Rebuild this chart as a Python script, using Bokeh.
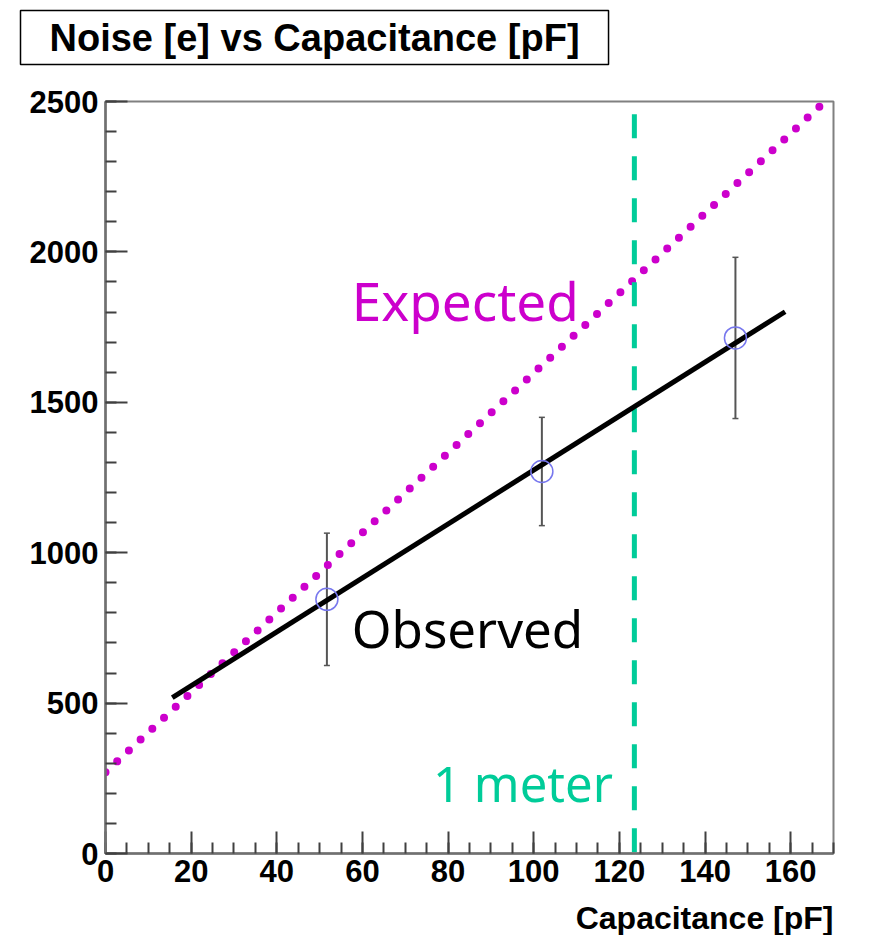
from bokeh.plotting import figure
from bokeh.models import Range1d, SingleIntervalTicker, Label, Whisker, TeeHead, ColumnDataSource, Title
from bokeh.embed import file_html
from bokeh.resources import INLINE

# ---- data ----
cap = [51.7, 101.9, 147.1]          # capacitance [pF]
noise = [845, 1270, 1714]           # observed noise [e]
noise_err = [220, 180, 268]         # error bars [e]

fit_x = [15.6, 158.7]               # observed linear fit
fit_y = [518, 1801]

exp_x = [0, 168]                    # expected noise line
exp_y = [270, 2500]

meter_x = [123.5, 123.5]            # "1 meter" capacitance
meter_y = [2458, 0]

x_ticks_interval = 20
y_ticks_interval = 500

TICK_FONT = "Liberation Sans"
TEXT_FONT = "Noto Sans"

p = figure(width=877, height=935, output_backend="svg", toolbar_location=None,
           x_range=Range1d(0, 170), y_range=Range1d(0, 2500),
           min_border_left=105, min_border_right=44, min_border_top=101, min_border_bottom=82)
p.background_fill_color = "white"
p.border_fill_color = "white"
p.outline_line_color = "#808080"
p.outline_line_width = 2
p.xgrid.visible = False
p.ygrid.visible = False

# spacer between frame and title box
p.add_layout(Title(text=" ", text_font_size="1px", standoff=33), "above")
# title box (ROOT style)
p.add_layout(Title(text="Noise [e] vs Capacitance [pF]", text_color="black",
                   text_font=TICK_FONT, text_font_style="bold", text_font_size="38px",
                   align="left", offset=20 - 105, standoff=2,
                   border_line_color="black", border_line_width=1.5,
                   background_fill_color="white",
                   padding=dict(left=29, right=29, top=6, bottom=6)), "above")

p.xaxis.ticker = SingleIntervalTicker(interval=x_ticks_interval, num_minor_ticks=4)
p.yaxis.ticker = SingleIntervalTicker(interval=y_ticks_interval, num_minor_ticks=5)
for ax in (p.xaxis, p.yaxis):
    ax.axis_line_color = "#707070"
    ax.axis_line_width = 2.5
    ax.major_tick_in = 22
    ax.major_tick_out = 0
    ax.minor_tick_in = 11
    ax.minor_tick_out = 0
    ax.major_tick_line_color = "#404040"
    ax.major_tick_line_width = 2
    ax.minor_tick_line_color = "#404040"
    ax.minor_tick_line_width = 2
    ax.major_label_text_font = TICK_FONT
    ax.major_label_text_font_style = "bold"
    ax.major_label_text_font_size = "31px"
    ax.major_label_text_color = "black"
p.yaxis.major_label_standoff = 7
p.xaxis.major_label_standoff = 6

# spacer, then x axis title right aligned under the axis (ROOT style)
p.add_layout(Title(text=" ", text_font_size="1px", standoff=10), "below")
p.add_layout(Title(text="Capacitance [pF]", text_color="black",
                   text_font=TICK_FONT, text_font_style="bold", text_font_size="32px",
                   align="right", offset=0, standoff=0), "below")

# expected (dotted magenta)
p.line(exp_x, exp_y, line_color="#CC00CC", line_width=8, line_dash="0 16", line_cap="round")

# 1 meter (dashed green)
p.line(meter_x, meter_y, line_color="#00CC99", line_width=5, line_dash="24 18")

# observed fit
p.line(fit_x, fit_y, line_color="black", line_width=5)

# error bars
src = ColumnDataSource(dict(x=cap, y=noise,
                            upper=[v + e for v, e in zip(noise, noise_err)],
                            lower=[v - e for v, e in zip(noise, noise_err)]))
w = Whisker(base="x", upper="upper", lower="lower", source=src,
            line_color="#555555", line_width=2,
            upper_head=TeeHead(size=6, line_color="#555555", line_width=1.5),
            lower_head=TeeHead(size=6, line_color="#555555", line_width=1.5))
p.add_layout(w)
p.scatter("x", "y", source=src, marker="circle", size=22, fill_color=None,
          line_color="#7777EE", line_width=1.5)

# texts
p.add_layout(Label(x=57.5, y=1837, text="Expected", text_color="#CC00CC",
                   text_font=TEXT_FONT, text_font_size="53px", text_baseline="alphabetic"))
p.add_layout(Label(x=57.5, y=751, text="Observed", text_color="black",
                   text_font=TEXT_FONT, text_font_size="51px", text_baseline="alphabetic"))
p.add_layout(Label(x=76.5, y=233, text="1 meter", text_color="#00CC99",
                   text_font=TEXT_FONT, text_font_size="49px", text_baseline="alphabetic"))

open("out.html", "w").write(file_html(p, INLINE))
